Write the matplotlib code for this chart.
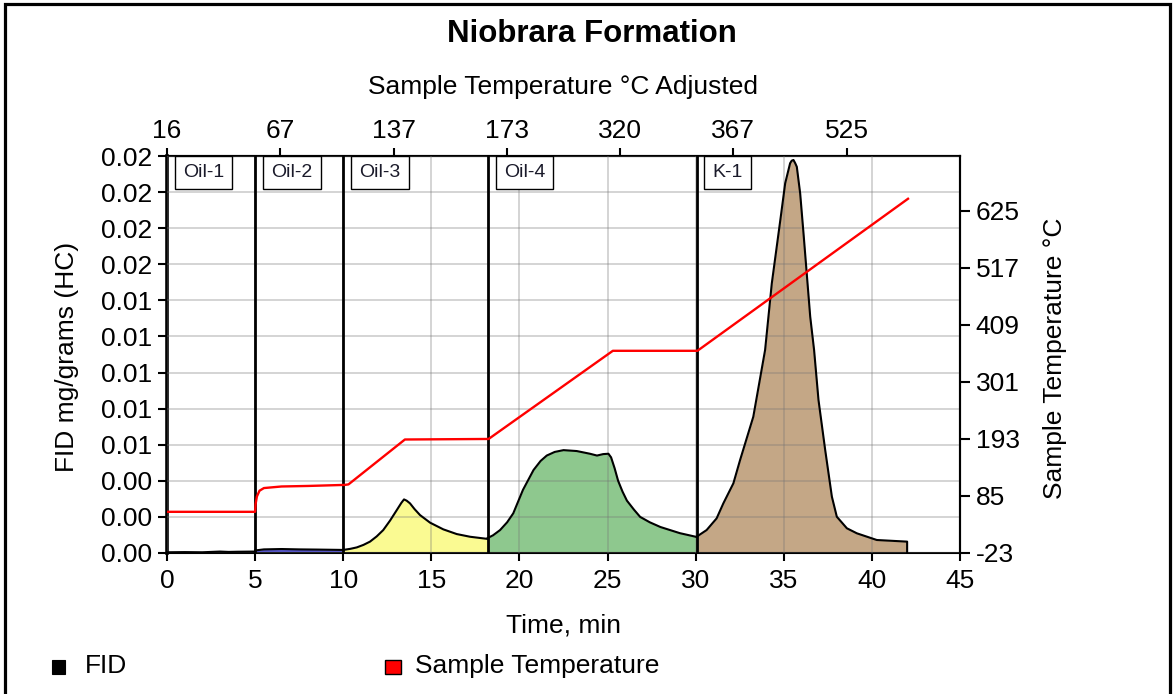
import numpy as np
import matplotlib
matplotlib.use("Agg")
import matplotlib.pyplot as plt
from matplotlib.ticker import MultipleLocator, FormatStrFormatter
from matplotlib.patches import Rectangle

plt.rcParams['font.family'] = ['Liberation Sans', 'DejaVu Sans']
plt.rcParams['axes.unicode_minus'] = False

# ---------------- data ----------------
title = "Niobrara Formation"
seg_names = ["Oil-1", "Oil-2", "Oil-3", "Oil-4", "K-1"]
seg_starts = [0.0, 5.0, 10.0, 18.2, 30.05]

oil1_t = [0.0, 1.0, 2.0, 3.0, 3.5, 4.0, 5.0]
oil1_fid = [0.00004, 0.00005, 0.00004, 0.00008, 0.00006, 0.00007, 0.00008]
oil2_t = [5.0, 5.5, 6.5, 7.5, 8.5, 10.0]
oil2_fid = [0.00014, 0.00020, 0.00022, 0.00020, 0.00019, 0.00017]
oil3_t = [10.0, 10.4, 10.77, 11.15, 11.52, 11.9, 12.27, 12.66, 13.04, 13.3, 13.45, 13.6, 13.79,
          14.05, 14.36, 14.93, 15.68, 16.44, 17.2, 18.2]
oil3_fid = [0.00017, 0.00023, 0.00031, 0.00045, 0.00063, 0.00092, 0.00127, 0.0018, 0.00238,
            0.00278, 0.00297, 0.00290, 0.00275, 0.00243, 0.0021, 0.00168, 0.00131, 0.00105,
            0.0009, 0.00078]
oil4_t = [18.2, 18.5, 18.9, 19.3, 19.65, 20.2, 20.8, 21.2, 21.55, 22.0, 22.5, 23.25, 24.0, 24.4,
          24.75, 25.05, 25.2, 25.4, 25.6, 25.85, 26.1, 26.5, 26.85, 27.4, 28.0, 29.1, 30.05]
oil4_fid = [0.00083, 0.00098, 0.00127, 0.0017, 0.0022, 0.0035, 0.0046, 0.0051, 0.0054, 0.0056,
            0.0057, 0.00565, 0.0055, 0.0054, 0.00548, 0.0055, 0.0053, 0.0047, 0.004, 0.0034,
            0.0029, 0.0024, 0.002, 0.0017, 0.00144, 0.0011, 0.00089]
k1_t = [30.05, 30.62, 31.19, 31.57, 32.14, 32.52, 33.27, 33.94, 34.32, 34.83, 35.08, 35.36,
        35.45, 35.55, 35.65, 35.74, 35.93, 36.12, 36.5, 36.72, 36.97, 37.35, 37.73, 38.01, 38.58,
        39.15, 40.28, 42.0, 42.0]
k1_fid = [0.0009, 0.00127, 0.00192, 0.00275, 0.00386, 0.00515, 0.00755, 0.01125, 0.01494,
          0.01864, 0.02049, 0.0216, 0.02174, 0.02178, 0.0216, 0.0214, 0.01993, 0.01771, 0.0131,
          0.01125, 0.00848, 0.00571, 0.00312, 0.00201, 0.00137, 0.00109, 0.00072, 0.00063, 0.0]

temp_t = [0.0, 5.0, 5.03, 5.1, 5.25, 5.5, 6.5, 8.0, 10.1, 10.3, 13.5, 18.25, 25.3, 30.1, 42.05]
temp_c = [55, 55, 70, 84, 95, 100, 103, 104, 106, 107, 192, 193, 360, 360, 648]

x_ticks = [0, 5, 10, 15, 20, 25, 30, 35, 40, 45]
right_ticks = [-23, 85, 193, 301, 409, 517, 625]
top_tick_labels = ["16", "67", "137", "173", "320", "367", "525"]

# ---------------- figure ----------------
W, H = 1176, 694
fig = plt.figure(figsize=(W / 100, H / 100), dpi=100)
L, R, T, B = 167, 960, 156, 553
ax = fig.add_axes([L / W, 1 - B / H, (R - L) / W, (B - T) / H])
ax.set_xlim(0, 45)
ax.set_ylim(0, 0.022)

seg_t = [oil1_t, oil2_t, oil3_t, oil4_t, k1_t]
seg_f = [oil1_fid, oil2_fid, oil3_fid, oil4_fid, k1_fid]
seg_colors = ['#303030', '#5a5ad0', '#fafa92', '#8ec88e', '#c4a786']
for t, f, c in zip(seg_t, seg_f, seg_colors):
    ax.fill_between(t, 0, f, color=c, lw=0, zorder=1)
    ax.plot(t, f, color='black', lw=1.5, zorder=4, solid_joinstyle='round')

for s in seg_starts[1:]:
    ax.axvline(s, color='black', lw=2.0, zorder=5)

ax.set_axisbelow(False)
ax.grid(True, color='0.45', alpha=0.38, lw=1.1)
ax.set_xticks(x_ticks)
ax.yaxis.set_major_locator(MultipleLocator(0.002))
ax.yaxis.set_major_formatter(FormatStrFormatter('%.2f'))
ax.tick_params(axis='y', direction='out', length=6.5, width=1.5, labelsize=19, pad=4)
ax.tick_params(axis='x', direction='out', length=5.5, width=1.5, labelsize=19, pad=6)
ax.spines['left'].set_linewidth(2.6)
for sp in ['bottom', 'top', 'right']:
    ax.spines[sp].set_linewidth(1.5)

# segment label boxes
for name, s in zip(seg_names, seg_starts):
    ax.annotate(name, xy=(s, 1), xycoords=ax.get_xaxis_transform(),
                xytext=(16, -8), textcoords='offset pixels', ha='left', va='top',
                fontsize=14, color='#1a1a2a', zorder=6,
                bbox=dict(boxstyle='square,pad=0.42', fc='white', ec='black', lw=1.0))

# right temperature axis
axr = ax.twinx()
axr.set_ylim(-23, 729)
axr.set_yticks(right_ticks)
axr.plot(temp_t, temp_c, color='red', lw=1.7, zorder=5)
axr.tick_params(axis='y', direction='out', length=7.2, width=1.5, labelsize=19, pad=4)
for sp in ['left', 'top', 'bottom']:
    axr.spines[sp].set_visible(False)
axr.spines['right'].set_linewidth(1.5)

# top adjusted temperature axis
secx = ax.secondary_xaxis('top')
secx.set_xticks(np.linspace(0, 45, 8)[:-1], top_tick_labels)
secx.tick_params(direction='out', length=5.5, width=1.5, labelsize=19, pad=4)
secx.spines['top'].set_linewidth(1.5)

# texts
fig.text(591.5 / W, 1 - 33.5 / H, title, ha='center', va='center', fontsize=22.5,
         fontweight='bold')
fig.text(563.5 / W, 1 - 87 / H, "Sample Temperature °C Adjusted", ha='center', va='center',
         fontsize=19)
fig.text(563.5 / W, 1 - 626 / H, "Time, min", ha='center', va='center', fontsize=19)
fig.text(67 / W, 1 - 357 / H, "FID mg/grams (HC)", ha='center', va='center', fontsize=19,
         rotation=90)
fig.text(1055 / W, 1 - 358 / H, "Sample Temperature °C", ha='center', va='center',
         fontsize=19, rotation=90)

# legend
fig.add_artist(Rectangle((52 / W, 1 - 674 / H), 13 / W, 14 / H, transform=fig.transFigure,
                         fc='black', ec='black', lw=0.8))
fig.text(85 / W, 1 - 666 / H, "FID", ha='left', va='center', fontsize=19)
fig.add_artist(Rectangle((385 / W, 1 - 674 / H), 16 / W, 14 / H, transform=fig.transFigure,
                         fc='red', ec='black', lw=1.0))
fig.text(415 / W, 1 - 666 / H, "Sample Temperature", ha='left', va='center', fontsize=19)

# outer frame
fig.add_artist(Rectangle((5 / W, -0.05), 1165 / W, 1.05 - 3.5 / H, transform=fig.transFigure,
                         fill=False, ec='black', lw=2.3, clip_on=False))

fig.savefig("out.png", dpi=100)
